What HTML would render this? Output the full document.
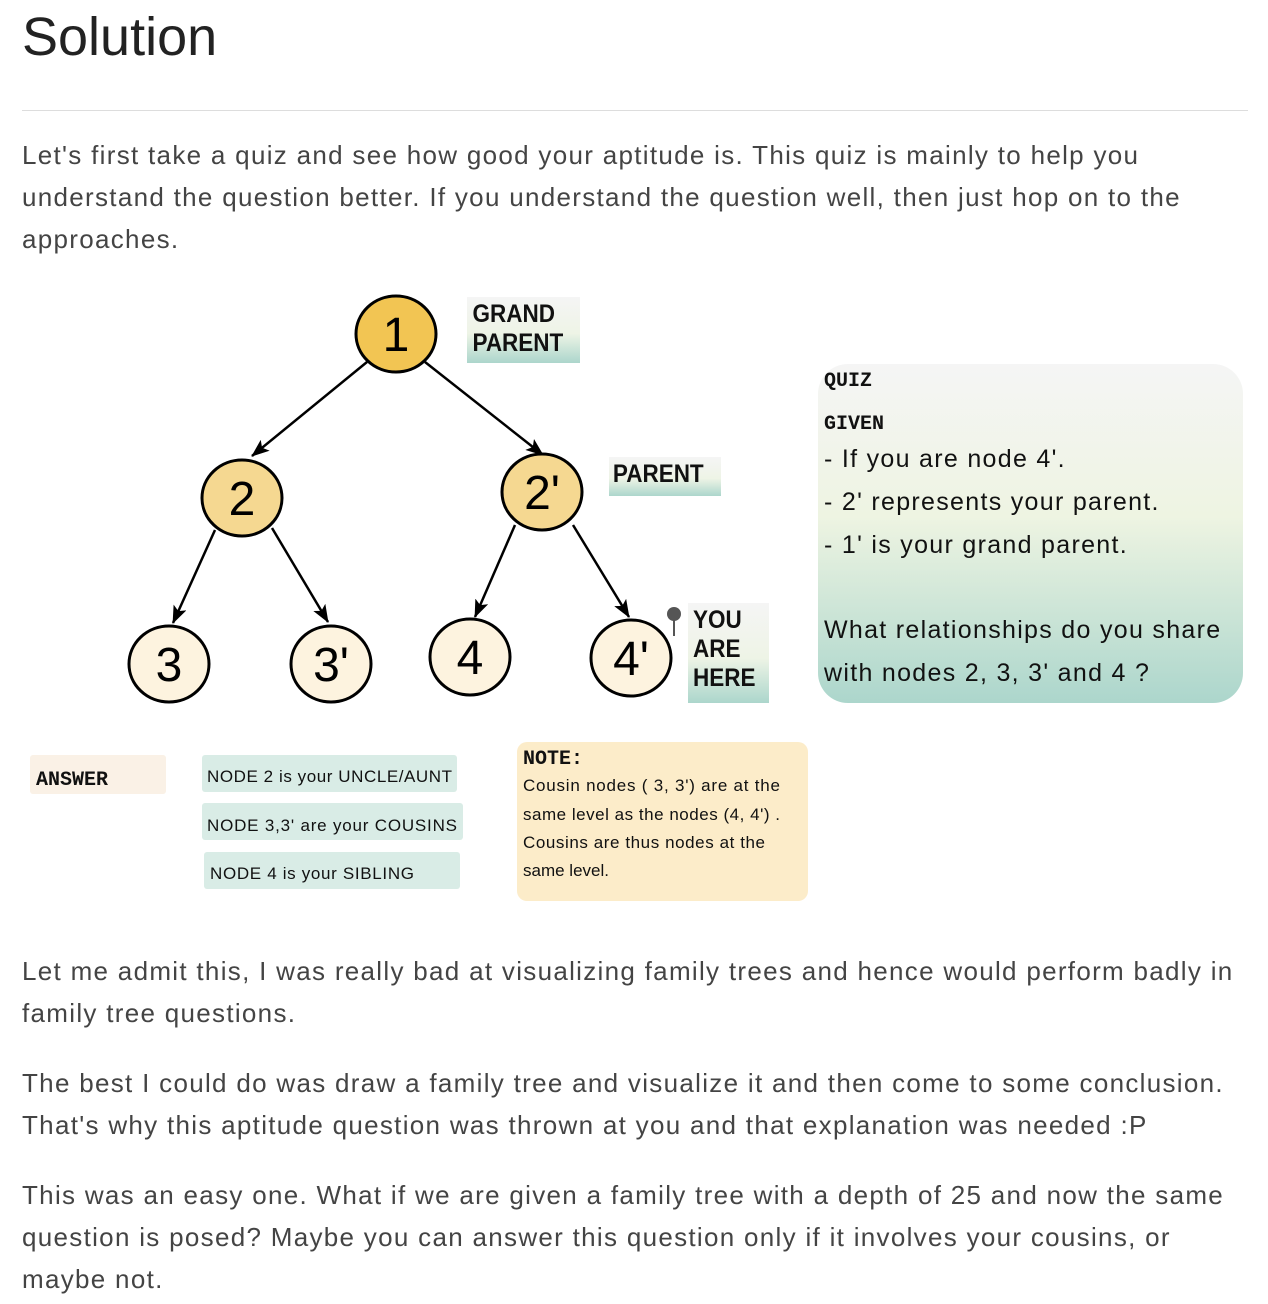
<!DOCTYPE html>
<html><head><meta charset="utf-8"><style>
body{margin:0;background:#fff;width:1268px;height:1304px;position:relative;font-family:"Liberation Sans",sans-serif;color:#333;overflow:hidden}
.p{position:absolute;left:22px;width:1240px;font-size:26px;line-height:42px;color:#444;letter-spacing:1.3px;white-space:nowrap}
.t{position:absolute;font-family:"Liberation Sans",sans-serif}
</style></head><body>
<div class="t" style="left:22px;top:6px;font-size:54px;color:#222">Solution</div>
<div style="position:absolute;left:22px;top:110px;width:1226px;height:1px;background:#ddd"></div>
<div class="p" style="top:134px">Let's first take a quiz and see how good your aptitude is. This quiz is mainly to help you<br>understand the question better. If you understand the question well, then just hop on to the<br>approaches.</div>

<svg style="position:absolute;left:0;top:280px" width="1268" height="640">
<defs><marker id="a" markerWidth="18" markerHeight="14" refX="17" refY="7" orient="auto" markerUnits="userSpaceOnUse"><path d="M0,0 L18,7 L0,14 L4,7 Z" fill="#000"/></marker>
<linearGradient id="g" x1="0" y1="0" x2="0" y2="1"><stop offset="0" stop-color="#f5f5f5"/><stop offset="0.55" stop-color="#eef4e6"/><stop offset="1" stop-color="#acd6cc"/></linearGradient>
<linearGradient id="gq" x1="0" y1="0" x2="0" y2="1"><stop offset="0" stop-color="#f5f5f5"/><stop offset="0.45" stop-color="#eef4e2"/><stop offset="1" stop-color="#acd6cc"/></linearGradient></defs>
<g stroke="#000" stroke-width="2.5" fill="none">
<line x1="367" y1="82" x2="252" y2="176" marker-end="url(#a)"/>
<line x1="425" y1="82" x2="543" y2="175" marker-end="url(#a)"/>
<line x1="215" y1="250" x2="173" y2="343" marker-end="url(#a)"/>
<line x1="272" y1="248" x2="328" y2="342" marker-end="url(#a)"/>
<line x1="515" y1="245" x2="475" y2="337" marker-end="url(#a)"/>
<line x1="573" y1="245" x2="629" y2="337" marker-end="url(#a)"/>
</g>
<g stroke="#000" stroke-width="3">
<ellipse cx="396" cy="54" rx="40" ry="38" fill="#f2c553"/>
<ellipse cx="242" cy="218" rx="40" ry="38" fill="#f5d891"/>
<ellipse cx="542" cy="212" rx="40" ry="38" fill="#f5d891"/>
<ellipse cx="169" cy="384" rx="40" ry="38" fill="#fdf3df"/>
<ellipse cx="331" cy="384" rx="40" ry="38" fill="#fdf3df"/>
<ellipse cx="470" cy="377" rx="40" ry="38" fill="#fdf3df"/>
<ellipse cx="631" cy="378" rx="40" ry="38" fill="#fdf3df"/>
</g>
<g font-family="Liberation Sans" font-size="48" text-anchor="middle" fill="#000">
<text x="396" y="71">1</text><text x="242" y="235">2</text><text x="542" y="229">2'</text>
<text x="169" y="401">3</text><text x="331" y="401">3'</text><text x="470" y="394">4</text><text x="631" y="395">4'</text>
</g>
<rect x="467" y="17" width="113" height="66" fill="url(#g)"/>
<rect x="609" y="177" width="112" height="39" fill="url(#g)"/>
<rect x="688" y="323" width="81" height="100" fill="url(#g)"/>
<rect x="818" y="84" width="425" height="339" rx="30" fill="url(#gq)"/>
<circle cx="674" cy="334" r="7" fill="#555"/><line x1="674" y1="334" x2="674" y2="356" stroke="#555" stroke-width="2"/>
<g font-family="Liberation Sans" font-weight="bold" font-size="25" fill="#111" transform="scale(0.9,1)">
<text x="525" y="42">GRAND</text><text x="525" y="71">PARENT</text>
<text x="681" y="202">PARENT</text>
<text x="770" y="348">YOU</text><text x="770" y="377">ARE</text><text x="770" y="406">HERE</text>
</g>
<g font-family="Liberation Mono" font-weight="bold" font-size="20" fill="#111">
<text x="824" y="106">QUIZ</text><text x="824" y="149">GIVEN</text>
</g>
<g font-family="Liberation Sans" font-size="25" fill="#111" letter-spacing="1.3">
<text x="824" y="187">- If you are node 4'.</text>
<text x="824" y="230">- 2' represents your parent.</text>
<text x="824" y="273">- 1' is your grand parent.</text>
<text x="824" y="358">What relationships do you share</text>
<text x="824" y="401">with nodes 2, 3, 3' and 4 ?</text>
</g>
<rect x="30" y="475" width="136" height="39" rx="3" fill="#faf1e6"/>
<text x="36" y="505" font-family="Liberation Mono" font-weight="bold" font-size="20" fill="#111">ANSWER</text>
<rect x="202" y="475" width="255" height="37" rx="3" fill="#d9ece6"/>
<rect x="202" y="523" width="261" height="37" rx="3" fill="#d9ece6"/>
<rect x="204" y="572" width="256" height="37" rx="3" fill="#d9ece6"/>
<rect x="517" y="462" width="291" height="159" rx="10" fill="#fcecc9"/>
<text x="523" y="484" font-family="Liberation Mono" font-weight="bold" font-size="20" fill="#111">NOTE:</text>
<g font-family="Liberation Sans" font-size="17" fill="#111">
<text x="207" y="502" textLength="245">NODE 2  is your UNCLE/AUNT</text>
<text x="207" y="551" textLength="250">NODE 3,3'  are  your COUSINS</text>
<text x="210" y="599" textLength="204">NODE 4  is your SIBLING</text>
<text x="523" y="511" textLength="257">Cousin nodes ( 3, 3')  are at the</text>
<text x="523" y="540" textLength="257">same level as the nodes (4, 4') .</text>
<text x="523" y="568" textLength="242">Cousins are thus nodes at the</text>
<text x="523" y="596">same level.</text>
</g>
</svg>

<div class="p" style="top:950px">Let me admit this, I was really bad at visualizing family trees and hence would perform badly in<br>family tree questions.</div>
<div class="p" style="top:1062px">The best I could do was draw a family tree and visualize it and then come to some conclusion.<br>That's why this aptitude question was thrown at you and that explanation was needed :P</div>
<div class="p" style="top:1174px">This was an easy one. What if we are given a family tree with a depth of 25 and now the same<br>question is posed? Maybe you can answer this question only if it involves your cousins, or<br>maybe not.</div>
</body></html>
